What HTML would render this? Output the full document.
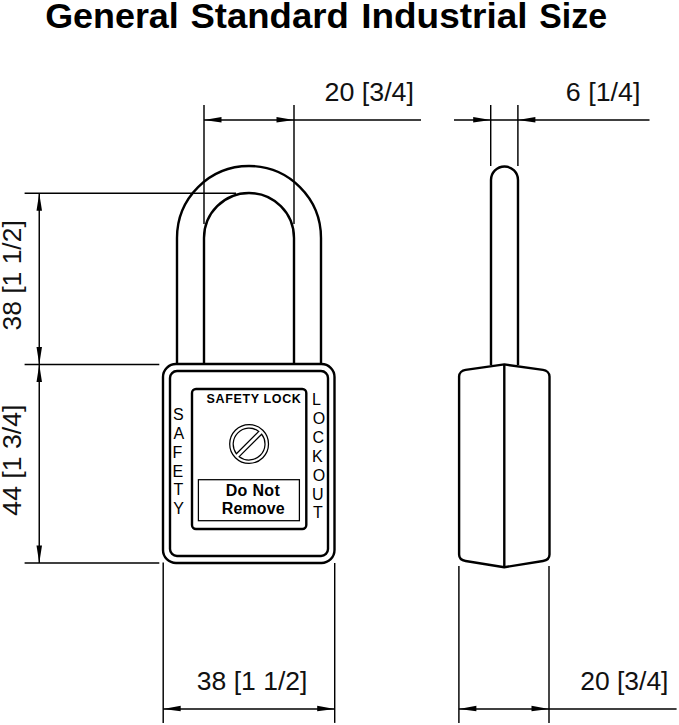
<!DOCTYPE html>
<html><head><meta charset="utf-8">
<style>
html,body{margin:0;padding:0;background:#fff;}
body{width:679px;height:725px;overflow:hidden;}
svg{display:block;}
text{font-family:"Liberation Sans",sans-serif;}
</style></head>
<body>
<svg width="679" height="725" viewBox="0 0 679 725">
<rect width="679" height="725" fill="#fff"/>
<!-- title -->
<g font-size="34.5" font-weight="bold" fill="#000">
  <text x="45.17" y="28.4" textLength="133.65" lengthAdjust="spacingAndGlyphs">General</text>
  <text x="190.48" y="28.4" textLength="158.32" lengthAdjust="spacingAndGlyphs">Standard</text>
  <text x="361.17" y="28.4" textLength="166.35" lengthAdjust="spacingAndGlyphs">Industrial</text>
  <text x="539.25" y="28.4" textLength="67.71" lengthAdjust="spacingAndGlyphs">Size</text>
</g>

<g stroke="#000" stroke-width="1.45" fill="none">
  <!-- top dim 20 [3/4] -->
  <line x1="204" y1="105" x2="204" y2="224"/>
  <line x1="294" y1="105" x2="294" y2="224"/>
  <line x1="204" y1="119.9" x2="421" y2="119.9"/>
  <!-- 6 [1/4] -->
  <line x1="490.7" y1="105" x2="490.7" y2="166"/>
  <line x1="517.9" y1="105" x2="517.9" y2="166"/>
  <line x1="454" y1="119.9" x2="649.5" y2="119.9"/>
  <!-- left dims -->
  <line x1="24.6" y1="193.3" x2="236" y2="193.3"/>
  <line x1="24.6" y1="364.4" x2="159.3" y2="364.4"/>
  <line x1="24.6" y1="563" x2="159.3" y2="563"/>
  <line x1="39.25" y1="193" x2="39.25" y2="563"/>
  <!-- bottom dims -->
  <line x1="163.2" y1="562.4" x2="163.2" y2="722.9"/>
  <line x1="334.7" y1="563" x2="334.7" y2="722.9"/>
  <line x1="163.2" y1="708.9" x2="334.7" y2="708.9"/>
  <line x1="458.9" y1="566" x2="458.9" y2="722.9"/>
  <line x1="549" y1="566" x2="549" y2="722.9"/>
  <line x1="458.9" y1="708.9" x2="676.6" y2="708.9"/>
</g>
<g fill="#000" stroke="none">
  <path d="M204,119.9 L221.5,116.95 L221.5,122.45 Z"/>
  <path d="M294,119.9 L276.5,116.95 L276.5,122.45 Z"/>
  <path d="M490.7,119.9 L473.2,116.95 L473.2,122.45 Z"/>
  <path d="M517.9,119.9 L535.4,116.95 L535.4,122.45 Z"/>
  <path d="M39.25,193.3 L36.5,210.8 L42.0,210.8 Z"/>
  <path d="M39.25,364.4 L36.5,346.9 L42.0,346.9 Z"/>
  <path d="M39.25,364.4 L36.5,381.9 L42.0,381.9 Z"/>
  <path d="M39.25,563 L36.5,545.5 L42.0,545.5 Z"/>
  <path d="M163.2,708.9 L180.7,705.85 L180.7,711.35 Z"/>
  <path d="M334.7,708.9 L317.2,705.85 L317.2,711.35 Z"/>
  <path d="M458.9,708.9 L476.4,705.85 L476.4,711.35 Z"/>
  <path d="M549,708.9 L531.5,705.85 L531.5,711.35 Z"/>
</g>
<g fill="#111" font-size="25">
  <text x="324.46" y="101" textLength="89.55" lengthAdjust="spacingAndGlyphs">20 [3/4]</text>
  <text x="565.88" y="101" textLength="74.53" lengthAdjust="spacingAndGlyphs">6 [1/4]</text>
  <text x="196.81" y="690" textLength="110.56" lengthAdjust="spacingAndGlyphs">38 [1 1/2]</text>
  <text x="580.28" y="690" textLength="88.21" lengthAdjust="spacingAndGlyphs">20 [3/4]</text>
  <text transform="translate(20.5,330.49) rotate(-90)" textLength="110.26" lengthAdjust="spacingAndGlyphs">38 [1 1/2]</text>
  <text transform="translate(20.5,515.65) rotate(-90)" textLength="111.03" lengthAdjust="spacingAndGlyphs">44 [1 3/4]</text>
</g>

<!-- front lock -->
<g stroke="#000" stroke-width="2.4" fill="none">
  <path d="M177,364 V238 A72,72 0 0 1 321,238 V364"/>
  <path d="M204,364 V238 A45,45 0 0 1 294,238 V364"/>
  <rect x="163" y="364" width="171.5" height="199" rx="13"/>
  <rect x="170" y="371" width="158" height="185" rx="7"/>
  <rect x="192" y="389" width="114.3" height="140" rx="4"/>
</g>
<g stroke="#000" stroke-width="1.25" fill="none">
  <rect x="198.4" y="479.7" width="101" height="41"/>
  <circle cx="249.1" cy="444" r="19.4"/>
  <path d="M236.4,453.8 A16,16 0 0 1 258.8,431.4 Z"/>
  <path d="M261.64,434.19 A16,16 0 0 1 239.19,456.64 Z"/>
</g>
<g fill="#000" font-weight="bold" text-anchor="middle">
  <text x="254" y="403" font-size="12.5" letter-spacing="0.63">SAFETY LOCK</text>
  <text x="252.9" y="495.7" font-size="16" letter-spacing="0.35">Do Not</text>
  <text x="253.3" y="513.9" font-size="16" letter-spacing="0.1">Remove</text>
</g>
<g fill="#000" font-size="16">
  <text x="172.95" y="419.8">S</text>
  <text x="173.52" y="438.7">A</text>
  <text x="172.44" y="457.6">F</text>
  <text x="172.44" y="476.5">E</text>
  <text x="173.39" y="495.4">T</text>
  <text x="173.14" y="514.3">Y</text>
  <text x="312.04" y="405">L</text>
  <text x="312.63" y="423.9">O</text>
  <text x="312.61" y="442.8">C</text>
  <text x="312.04" y="461.7">K</text>
  <text x="312.63" y="480.6">O</text>
  <text x="312.10" y="499.5">U</text>
  <text x="312.99" y="518.4">T</text>
</g>

<!-- side view -->
<g stroke="#000" stroke-width="2.4" fill="none" stroke-linejoin="round">
  <path d="M491,365 V180 A13.5,13.5 0 0 1 518,180 V365"/>
  <path d="M504.3,364.4 L465.6,369.9 C462,370.4 459.1,373 459.1,376.6 V554.6 C459.1,558.2 462,560.5 465.6,561 L504.3,567.2 L543,561 C546.6,560.5 549.5,558.2 549.5,554.6 V376.6 C549.5,373 546.6,370.4 543,369.9 Z"/>
  <line x1="504.3" y1="364.4" x2="504.3" y2="567.2"/>
</g>
</svg>
</body></html>
